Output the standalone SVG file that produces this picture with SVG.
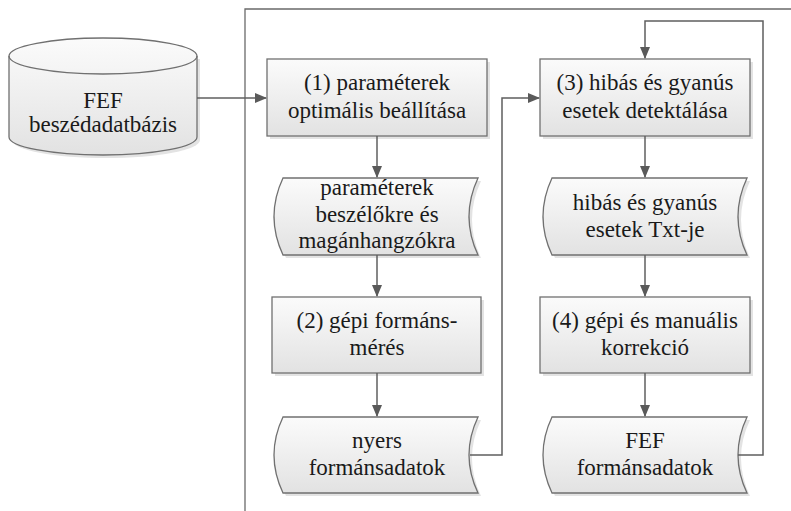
<svg xmlns="http://www.w3.org/2000/svg" width="791" height="511" viewBox="0 0 791 511">
<defs>
<linearGradient id="g" x1="0" y1="0" x2="0" y2="1">
<stop offset="0" stop-color="#fbfbfb"/>
<stop offset="1" stop-color="#e2e2e2"/>
</linearGradient>
<marker id="ar" markerWidth="12" markerHeight="10" refX="11" refY="5" orient="auto" markerUnits="userSpaceOnUse">
<path d="M0,0 L12,5 L0,10 Z" fill="#5a5a5a"/>
</marker>
<style>
.n{fill:url(#g);stroke:#707070;stroke-width:1.3}
.s{fill:#d0d0d0;opacity:0.6}
.c{fill:none;stroke:#5f5f5f;stroke-width:1.5}
.f{fill:none;stroke:#6a6a6a;stroke-width:1.3}
.t{font-family:"Liberation Serif","Times New Roman","DejaVu Serif",serif;font-size:23px;fill:#1a1a1a;text-anchor:middle}
</style>
</defs>
<path class="f" d="M245,511 V9 H791"/>
<g id="db">
<path class="s" d="M12,59 V140 A94,18 0 0 0 200,140 V59 Z"/>
<path class="n" d="M9,56 V137 A94,18 0 0 0 197,137 V56 A94,18 0 0 0 9,56 Z"/>
<path d="M9,56 A94,18 0 0 0 197,56" fill="none" stroke="#707070" stroke-width="1.3"/>
<text class="t" x="103" y="108">FEF</text>
<text class="t" x="103" y="132">beszédadatbázis</text>
</g>
<g id="n1">
<rect class="s" x="270" y="62" width="220" height="77"/>
<rect class="n" x="267" y="59" width="220" height="77"/>
<text class="t" x="377" y="90">(1) paraméterek</text>
<text class="t" x="377" y="118">optimális beállítása</text>
</g>
<g id="s1">
<path class="s" d="M286,181 H481 Q463,219.5 481,258 H286 Q268,219.5 286,181 Z"/>
<path class="n" d="M283,178 H478 Q460,216.5 478,255 H283 Q265,216.5 283,178 Z"/>
<text class="t" x="377" y="195">paraméterek</text>
<text class="t" x="377" y="222">beszélőkre és</text>
<text class="t" x="377" y="248">magánhangzókra</text>
</g>
<g id="n2">
<rect class="s" x="275" y="300" width="209" height="76"/>
<rect class="n" x="272" y="297" width="209" height="76"/>
<text class="t" x="377" y="328">(2) gépi formáns-</text>
<text class="t" x="377" y="355">mérés</text>
</g>
<g id="s2">
<path class="s" d="M286,420 H481 Q463,458 481,496 H286 Q268,458 286,420 Z"/>
<path class="n" d="M283,417 H478 Q460,455 478,493 H283 Q265,455 283,417 Z"/>
<text class="t" x="377" y="448">nyers</text>
<text class="t" x="377" y="475">formánsadatok</text>
</g>
<g id="n3">
<rect class="s" x="543" y="62" width="210" height="77"/>
<rect class="n" x="540" y="59" width="210" height="77"/>
<text class="t" x="645" y="90">(3) hibás és gyanús</text>
<text class="t" x="645" y="118">esetek detektálása</text>
</g>
<g id="s3">
<path class="s" d="M555,181 H750 Q732,219.5 750,258 H555 Q537,219.5 555,181 Z"/>
<path class="n" d="M552,178 H747 Q729,216.5 747,255 H552 Q534,216.5 552,178 Z"/>
<text class="t" x="645" y="210">hibás és gyanús</text>
<text class="t" x="645" y="237">esetek Txt-je</text>
</g>
<g id="n4">
<rect class="s" x="543" y="300" width="210" height="76"/>
<rect class="n" x="540" y="297" width="210" height="76"/>
<text class="t" x="645" y="328">(4) gépi és manuális</text>
<text class="t" x="645" y="355">korrekció</text>
</g>
<g id="s4">
<path class="s" d="M555,420 H750 Q732,458 750,496 H555 Q537,458 555,420 Z"/>
<path class="n" d="M552,417 H747 Q729,455 747,493 H552 Q534,455 552,417 Z"/>
<text class="t" x="645" y="448">FEF</text>
<text class="t" x="645" y="475">formánsadatok</text>
</g>
<g id="connectors">
<path class="c" d="M197,98 H266" marker-end="url(#ar)"/>
<path class="c" d="M377,136 V177" marker-end="url(#ar)"/>
<path class="c" d="M377,255 V296" marker-end="url(#ar)"/>
<path class="c" d="M377,373 V416" marker-end="url(#ar)"/>
<path class="c" d="M470,455 H502 V98 H539" marker-end="url(#ar)"/>
<path class="c" d="M645,136 V177" marker-end="url(#ar)"/>
<path class="c" d="M645,255 V296" marker-end="url(#ar)"/>
<path class="c" d="M645,373 V416" marker-end="url(#ar)"/>
<path class="c" d="M738,455 H763 V21 H645 V58" marker-end="url(#ar)"/>
</g>
</svg>
